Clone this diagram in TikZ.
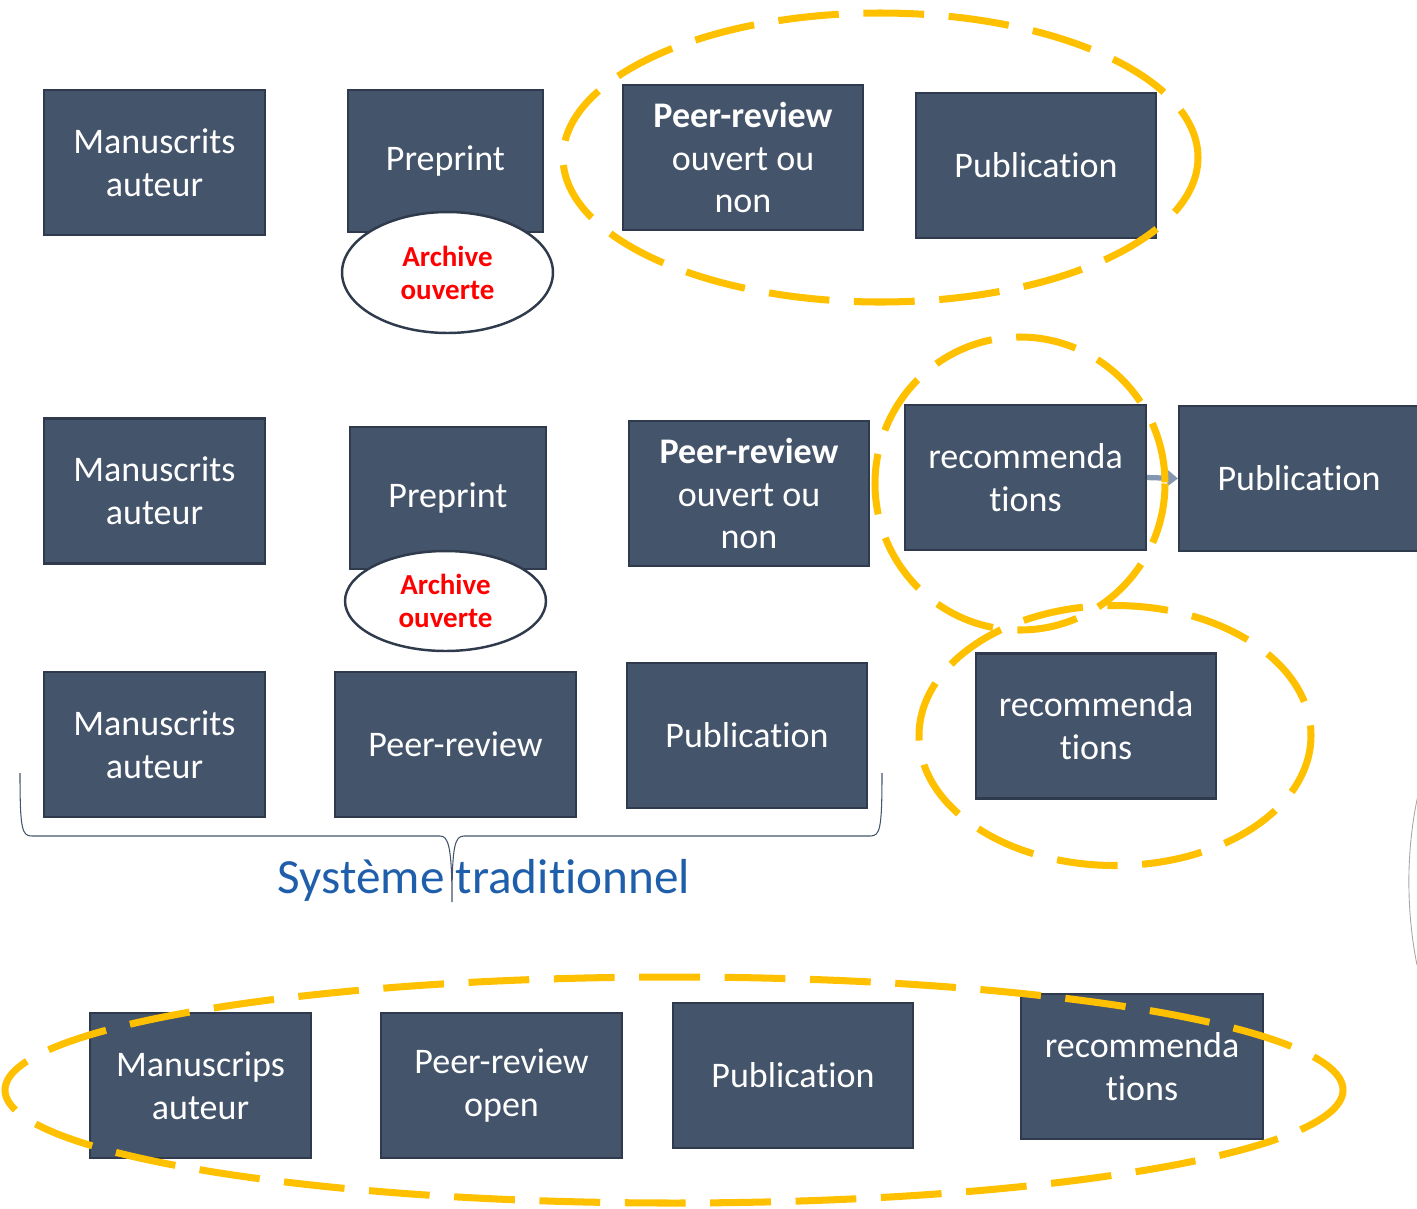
\documentclass[tikz,border=0pt]{standalone}
\usepackage{fontspec}
\setmainfont{Carlito}[Ligatures={NoCommon}]
\definecolor{boxblue}{RGB}{68, 84, 106}
\definecolor{boxedge}{RGB}{47, 59, 76}
\definecolor{ringgold}{RGB}{255, 192, 0}
\definecolor{archred}{RGB}{255, 0, 0}
\definecolor{titleblue}{RGB}{31, 94, 170}
\definecolor{arrowgray}{RGB}{132, 151, 176}
\usetikzlibrary{shapes.geometric, arrows.meta}

\begin{document}
\begin{tikzpicture}[x=0.02cm, y=-0.02cm,
    stage/.style={draw=boxedge, line width=1.2pt, fill=boxblue, text=white, align=center,
      font=\fontsize{20.5}{24.4}\selectfont, minimum width=4.8cm, minimum height=2.9cm, inner sep=2pt},
    archive/.style={ellipse, draw=boxedge, line width=1.4pt, fill=white, text=archred, align=center,
      font=\fontsize{16.5}{18.7}\selectfont\bfseries, inner sep=0pt},
    ring/.style={draw=ringgold, line width=4pt, dash pattern=on 34.6pt off 14pt}]
  \useasboundingbox (0,0) rectangle (1417,1208);

  % Row 1: preprint, then review and publication
  \node[stage, minimum width=4.42cm] (manu1) at (154.5,162.5) {Manuscrits\\auteur};
  \node[stage, minimum width=3.9cm, minimum height=2.84cm] (prep1) at (445.5,161) {Preprint};
  \node[archive, minimum width=4.22cm, minimum height=2.42cm] (arch1) at (447.5,272.5) {Archive\\ouverte};
  \node[stage] (peer1) at (743,157.5) {\textbf{Peer-review}\\ouvert ou\\non};
  \node[stage] (pub1) at (1036,165.5) {Publication};
  \draw[ring] (880.5,157.5) ellipse [x radius=317.5, y radius=144.5];

  % Row 2: recommendations before publication
  \node[stage, minimum width=4.42cm] (manu2) at (154.5,491) {Manuscrits\\auteur};
  \node[stage, minimum width=3.92cm, minimum height=2.84cm] (prep2) at (448,498) {Preprint};
  \node[archive, minimum width=4.02cm, minimum height=2cm] (arch2) at (445.5,601) {Archive\\ouverte};
  \node[stage] (peer2) at (749,493.5) {\textbf{Peer-review}\\ouvert ou\\non};
  \node[stage, minimum width=4.82cm] (reco2) at (1025.5,477.5) {recommenda\\tions};
  \node[stage, anchor=west] (pub2) at (1178,478.5) {Publication};
  \draw[-{Triangle[length=6pt, width=9pt]}, arrowgray, line width=3pt] (reco2.east) -- (pub2.west);
  \draw[ring] (1020,483.5) ellipse [x radius=145, y radius=146.5];

  % Row 3: traditional system
  \node[stage, minimum width=4.42cm] (manu3) at (154.5,744.5) {Manuscrits\\auteur};
  \node[stage, minimum width=4.82cm] (peer3) at (455.5,744.5) {Peer-review};
  \node[stage] (pub3) at (747,735.5) {Publication};
  \node[stage] (reco3) at (1096,726) {recommenda\\tions};
  \draw[ring] (1115,735.5) ellipse [x radius=196, y radius=130];

  % brace and caption
  \draw[boxblue, line width=0.6pt] (20,773) .. controls (20,830) and (22,836) .. (32,836)
    -- (440,836) .. controls (448,836) and (452,845) .. (452,902)
    .. controls (452,845) and (455,836) .. (464,836)
    -- (870,836) .. controls (880,836) and (882,830) .. (882,773);
  \node[titleblue, font=\fontsize{28}{34}\selectfont, inner sep=0pt] (trad) at (484,880) {Système traditionnel};

  % Row 4: open review
  \node[stage, minimum width=4.42cm] (manu4) at (200.5,1085.5) {Manuscrips\\auteur};
  \node[stage, minimum width=4.82cm] (peer4) at (501.5,1085.5) {Peer-review\\open};
  \node[stage] (pub4) at (793,1075.5) {Publication};
  \node[stage, minimum width=4.84cm] (reco4) at (1142,1066.5) {recommenda\\tions};
  \draw[ring] (674,1090) ellipse [x radius=669, y radius=113];

  % cut-off shape at the right border
  \draw[gray!70, line width=0.5pt] (1418,795) .. controls (1406,850) and (1406,910) .. (1417,965);
\end{tikzpicture}
\end{document}
